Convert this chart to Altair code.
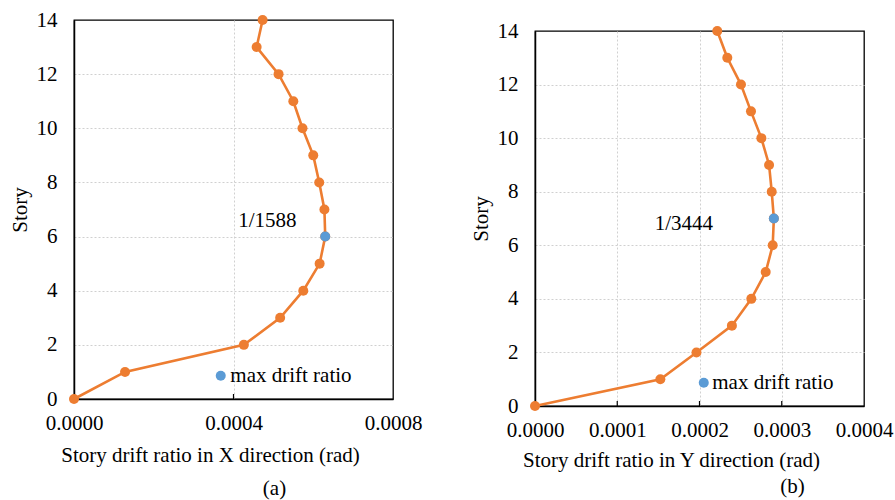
import altair as alt
import pandas as pd

# ---------------- data ----------------
stories = list(range(15))
drift_x = [0.0, 0.000128, 0.000426, 0.000517, 0.000575, 0.000616, 0.000630,
           0.000628, 0.000615, 0.000600, 0.000573, 0.000550, 0.000513,
           0.000458, 0.000473]
drift_y = [0.0, 0.0001524, 0.0001963, 0.0002394, 0.000263, 0.0002805,
           0.000289, 0.0002904, 0.0002878, 0.0002846, 0.0002752, 0.0002626,
           0.0002504, 0.0002338, 0.0002216]
max_story_x = 6
max_story_y = 7
label_x = "1/1588"
label_y = "1/3444"
label_pos_x = [0.000485, 6.58]
label_pos_y = [0.000181, 6.79]
legend_text = "max drift ratio"
legend_pos_x = [0.000368, 0.86, 0.000392]
legend_pos_y = [0.0002052, 0.87, 0.0002155]
xticks_x = [0.0, 0.0004, 0.0008]
xticks_y = [0.0, 0.0001, 0.0002, 0.0003, 0.0004]
yticks = [0, 2, 4, 6, 8, 10, 12, 14]

ORANGE = "#ED7D31"
BLUE = "#5B9BD5"
FONT = "Liberation Serif"
FS = 21


def panel(drift, max_story, xmax, xticks, xtitle, ann, ann_pos, leg_pos,
          width, height, caption, cap_dx, cap_off, xtitle_pad):
    df = pd.DataFrame({"drift": drift, "story": stories})
    dmax = df[df.story == max_story]
    xs = alt.Scale(domain=[0, xmax], nice=False, zero=False)
    ys = alt.Scale(domain=[0, 14], nice=False)
    xax = alt.Axis(values=xticks, format=".4f", grid=True, ticks=False,
                   title=xtitle, labelPadding=13, titlePadding=xtitle_pad,
                   titleX=136, titleAlign="center", labelFlush=False,
                   labelOverlap=False,
                   gridOpacity={"condition": {
                       "test": f"datum.value <= 0 || datum.value >= {xmax * 0.999}",
                       "value": 0}, "value": 1})
    yax = alt.Axis(values=yticks, grid=True, ticks=False, title="Story",
                   labelPadding=17, titlePadding=6, labelFlush=False,
                   labelOverlap=False,
                   gridOpacity={"condition": {
                       "test": "datum.value <= 0 || datum.value >= 14",
                       "value": 0}, "value": 1})
    base = alt.Chart(df)
    line = base.mark_line(color=ORANGE, strokeWidth=2.6).encode(
        x=alt.X("drift:Q", scale=xs, axis=xax),
        y=alt.Y("story:Q", scale=ys, axis=yax),
        order="story:Q")
    pts = base.mark_circle(color=ORANGE, size=100, opacity=1).encode(
        x=alt.X("drift:Q", scale=xs), y=alt.Y("story:Q", scale=ys))
    mx = alt.Chart(dmax).mark_circle(color=BLUE, size=100, opacity=1).encode(
        x=alt.X("drift:Q", scale=xs), y=alt.Y("story:Q", scale=ys))
    ann_df = pd.DataFrame({"x": [ann_pos[0]], "y": [ann_pos[1]], "t": [ann]})
    ann_m = alt.Chart(ann_df).mark_text(font=FONT, fontSize=FS, color="black",
                                        align="center", baseline="middle").encode(
        x=alt.X("x:Q", scale=xs), y=alt.Y("y:Q", scale=ys), text="t:N")
    leg_df = pd.DataFrame({"x": [leg_pos[0]], "y": [leg_pos[1]],
                           "tx": [leg_pos[2]], "t": [legend_text]})
    leg_pt = alt.Chart(leg_df).mark_circle(color=BLUE, size=100, opacity=1).encode(
        x=alt.X("x:Q", scale=xs), y=alt.Y("y:Q", scale=ys))
    leg_tx = alt.Chart(leg_df).mark_text(font=FONT, fontSize=FS, color="black",
                                         align="left", baseline="middle").encode(
        x=alt.X("tx:Q", scale=xs), y=alt.Y("y:Q", scale=ys), text="t:N")
    tick_df = pd.DataFrame({"v": xticks[1:-1]})
    tks = alt.Chart(tick_df).mark_rule(color="black", strokeWidth=1.2).encode(
        x=alt.X("v:Q", scale=xs), y=alt.value(height - 5), y2=alt.value(height))
    return alt.layer(line, pts, mx, ann_m, leg_pt, leg_tx, tks).properties(
        width=width, height=height,
        title=alt.TitleParams(text=caption, orient="bottom", anchor="middle",
                              frame="group", dx=cap_dx, offset=cap_off,
                              font=FONT, fontSize=FS, fontWeight="normal",
                              color="black"))


left = panel(drift_x, max_story_x, 0.0008, xticks_x,
             "Story drift ratio in X direction (rad)", label_x, label_pos_x,
             legend_pos_x, 319, 379, "(a)", 41, 13, 11)
right = panel(drift_y, max_story_y, 0.0004, xticks_y,
              "Story drift ratio in Y direction (rad)", label_y, label_pos_y,
              legend_pos_y, 329, 375, "(b)", 93, 6, 9)

# tiny invisible spacer that lowers the right panel relative to the left one
spacer = alt.Chart(pd.DataFrame({"a": [0]})).mark_rule(opacity=0).encode(
    x=alt.value(0), y=alt.value(0), y2=alt.value(1)
).properties(width=1, height=1,
             view=alt.ViewBackground(stroke="transparent"))

chart = alt.hconcat(left, alt.vconcat(spacer, right, spacing=-3),
                    spacing=46).configure(
    font=FONT,
    padding={"left": 8, "top": 8, "right": 0, "bottom": 0},
).configure_view(
    stroke="black", strokeWidth=1.3
).configure_axis(
    labelFont=FONT, labelFontSize=FS, labelColor="black",
    titleFont=FONT, titleFontSize=FS, titleColor="black", titleFontWeight="normal",
    domainColor="black", domainWidth=1.5,
    gridColor="#D0D0D0", gridDash=[2, 2], gridWidth=1,
)

chart.save("out.html", embed_options={"renderer": "svg", "actions": False})
